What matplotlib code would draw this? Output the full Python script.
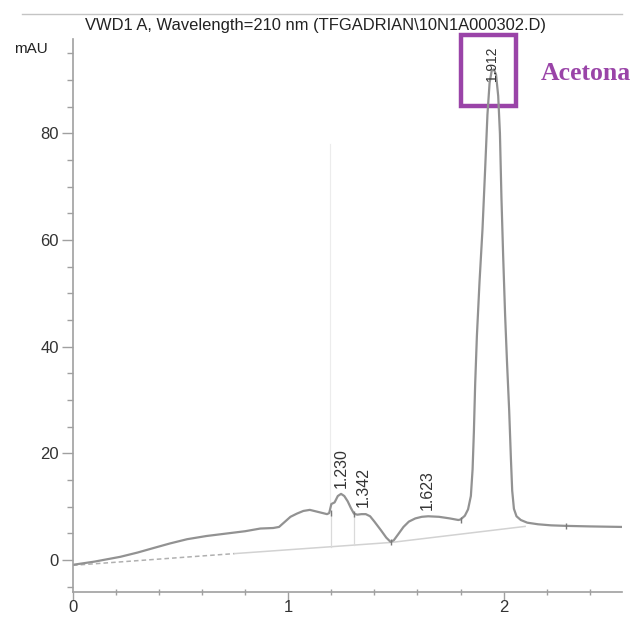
import matplotlib
matplotlib.use("Agg")
import matplotlib.pyplot as plt
from matplotlib.lines import Line2D
from matplotlib.patches import Rectangle

# ---- data ----
time_min = [0.0, 0.1, 0.22, 0.3, 0.37, 0.45, 0.53, 0.62, 0.72, 0.8, 0.87, 0.93,
            0.957, 0.985, 1.01, 1.04, 1.07, 1.10, 1.14, 1.18, 1.19, 1.20, 1.215,
            1.23, 1.245, 1.26, 1.276, 1.29, 1.305, 1.32, 1.34, 1.36, 1.38, 1.40,
            1.43, 1.455, 1.475, 1.49, 1.51, 1.535, 1.56, 1.59, 1.62, 1.65, 1.70,
            1.75, 1.79, 1.80, 1.82, 1.835, 1.848, 1.856, 1.862, 1.868, 1.876,
            1.888, 1.902, 1.914, 1.925, 1.935, 1.945, 1.955, 1.965, 1.975, 1.983,
            1.990, 1.998, 2.007, 2.016, 2.026, 2.034, 2.040, 2.048, 2.06, 2.08,
            2.11, 2.16, 2.22, 2.29, 2.40, 2.55]
signal_mau = [-0.9, -0.3, 0.6, 1.4, 2.2, 3.1, 3.9, 4.5, 5.0, 5.4, 5.9, 6.0,
              6.2, 7.2, 8.1, 8.7, 9.2, 9.4, 9.0, 8.6, 8.8, 10.5, 10.8,
              12.0, 12.4, 12.0, 11.0, 9.8, 8.7, 8.5, 8.6, 8.6, 8.2, 7.2,
              5.6, 4.2, 3.4, 3.7, 4.8, 6.2, 7.2, 7.8, 8.1, 8.2, 8.1,
              7.8, 7.5, 7.6, 8.3, 9.5, 12.0, 17.0, 24.0, 33.0, 42.0,
              52.0, 62.0, 73.0, 83.5, 89.5, 91.8, 92.0, 91.0, 87.0, 80.0,
              68.0, 57.0, 46.0, 37.0, 28.0, 19.0, 13.0, 9.6, 8.2, 7.5,
              7.0, 6.7, 6.5, 6.4, 6.3, 6.2]

baseline_t = [0.0, 0.75, 1.48, 2.10]
baseline_v = [-1.0, 1.2, 3.3, 6.3]

drop_t = [1.198, 1.305]
drop_top = [8.8, 8.7]
drop_bottom = [2.5, 2.8]

marker_t = [1.198, 1.305, 1.478, 1.80, 2.29]
marker_v = [8.8, 8.7, 3.3, 7.5, 6.4]

peak_labels = ["1.230", "1.342", "1.623", "1.912"]
peak_label_t = [1.247, 1.348, 1.645, 1.945]
peak_label_v = [13.5, 10.0, 9.4, 89.8]

y_ticks = [0, 20, 40, 60, 80]
x_ticks = [0, 1, 2]

title = "VWD1 A, Wavelength=210 nm (TFGADRIAN\\10N1A000302.D)"
compound = "Acetona"

# ---- figure ----
W, H = 633, 617
fig = plt.figure(figsize=(W / 100, H / 100), dpi=100)
fig.patch.set_facecolor("white")

def fx(px):
    return px / W

def fy(py):
    return 1 - py / H

ax = fig.add_axes([fx(73), fy(592), fx(622) - fx(73), fy(39) - fy(592)])
ax.set_xlim(0, 2.55)
ax.set_ylim(-6, 97.7)

for s in ["top", "right"]:
    ax.spines[s].set_visible(False)
for s in ["left", "bottom"]:
    ax.spines[s].set_color("#a0a0a0")
    ax.spines[s].set_linewidth(1.2)

ax.set_yticks(y_ticks)
ax.set_yticks([v for v in range(-5, 100, 5) if v not in y_ticks], minor=True)
ax.set_xticks(x_ticks)
ax.set_xticks([0.2, 0.4, 0.6, 0.8, 1.2, 1.4, 1.6, 1.8, 2.2, 2.4], minor=True)

tick_font = dict(family=["Liberation Sans", "DejaVu Sans"], size=12)
ax.set_yticklabels([str(v) for v in y_ticks], **tick_font, color="#333333")
ax.set_xticklabels([str(v) for v in x_ticks], **tick_font, color="#333333")
ax.tick_params(axis="y", which="major", direction="out", length=8, width=1, color="#a0a0a0", pad=2)
ax.tick_params(axis="y", which="minor", direction="out", length=4, width=1, color="#a0a0a0")
ax.tick_params(axis="x", which="major", direction="out", length=6, width=1, color="#a0a0a0", pad=0)
ax.tick_params(axis="x", which="minor", direction="inout", length=4, width=1, color="#a0a0a0")

# faint vertical trace line
ax.plot([1.195, 1.195], [10.5, 78], color="#ececec", lw=0.8)

# integration baseline
ax.plot(baseline_t[:2], baseline_v[:2], color="#b0b0b0", lw=1.1, ls=(0, (3, 2)))
ax.plot(baseline_t[1:], baseline_v[1:], color="#d2d2d2", lw=1.1)

# drop lines
for t, top, bot in zip(drop_t, drop_top, drop_bottom):
    ax.plot([t, t], [bot, top], color="#dadada", lw=0.9)

# signal
ax.plot(time_min, signal_mau, color="#929292", lw=1.6, solid_joinstyle="round")
ax.plot(marker_t, marker_v, ls="none", marker="|", ms=5, mew=1.0, color="#7a7a7a")

# peak labels
for lab, t, v in zip(peak_labels, peak_label_t, peak_label_v):
    fs = 10 if lab == "1.912" else 11.5
    ax.text(t, v, lab, rotation=90, ha="center", va="bottom", fontsize=fs,
            family=["Liberation Sans", "DejaVu Sans"], color="#333333", clip_on=False)

# highlight box + compound name
ax.add_patch(Rectangle((1.804, 85.2), 2.058 - 1.804, 98.4 - 85.2, fill=False,
                       edgecolor="#9a44a8", lw=3.2, clip_on=False))
fig.text(fx(541), fy(80), compound, ha="left", va="baseline", fontsize=18.5,
         family=["Liberation Serif", "DejaVu Serif"], fontweight="bold", color="#9a44a8")

# header
fig.text(fx(85), fy(30), title, ha="left", va="baseline", fontsize=11.9,
         family=["Liberation Sans", "DejaVu Sans"], color="#222222")
fig.add_artist(Line2D([fx(22), fx(622)], [fy(14), fy(14)], color="#c4c4c4", lw=1.0))
fig.text(fx(31), fy(49), "mAU", ha="center", va="center", fontsize=11,
         family=["Liberation Sans", "DejaVu Sans"], color="#222222")

fig.savefig("out.png", dpi=100, facecolor="white")
